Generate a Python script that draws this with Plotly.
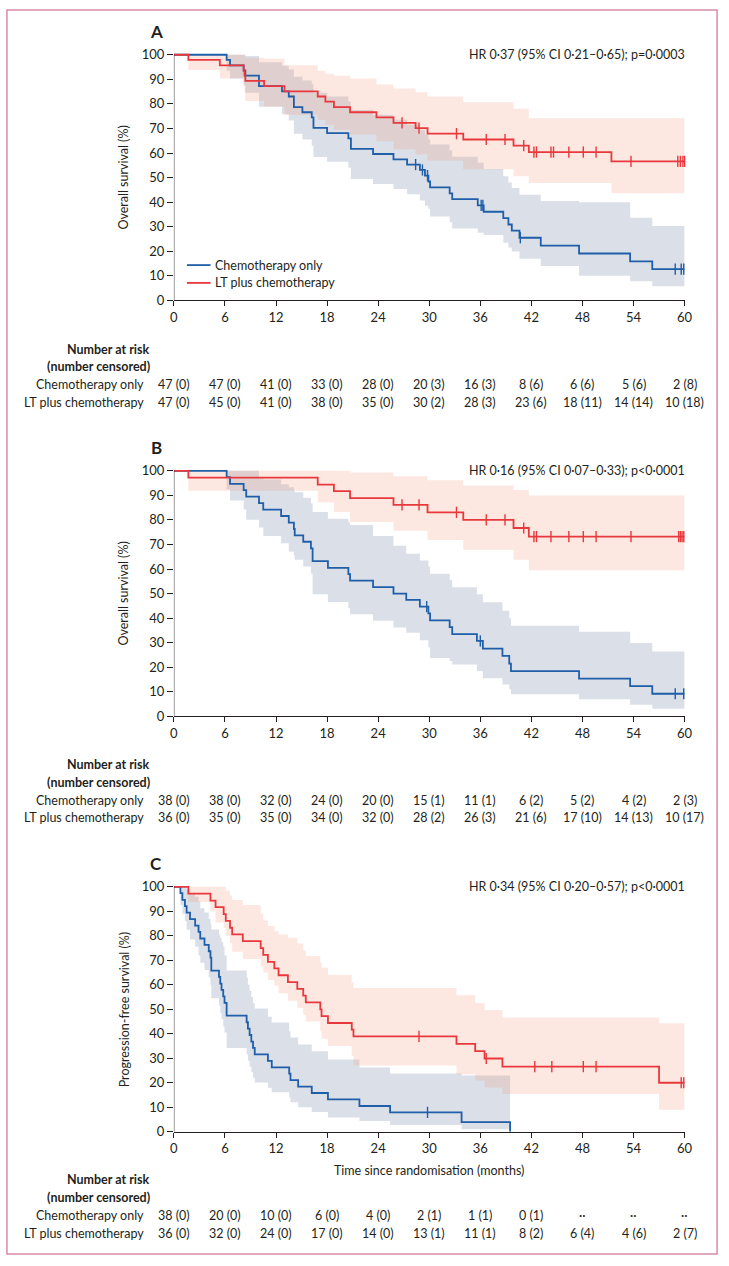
import numpy as np
import plotly.graph_objects as go

W, H = 729, 1266
FONT = "Lato"
INK = "#231f20"
BLUE = "#1f5ea8"
RED = "#e8383d"
BLUE_FILL = "rgba(170,178,200,0.42)"
RED_FILL = "rgba(240,150,120,0.22)"
BORDER = "#d98aa6"
FS = 12.5

month_ticks = [0, 6, 12, 18, 24, 30, 36, 42, 48, 54, 60]
surv_ticks = [0, 10, 20, 30, 40, 50, 60, 70, 80, 90, 100]
arm_names = ["Chemotherapy only", "LT plus chemotherapy"]

# ---------------- Panel A : overall survival ----------------
A_chemo_t = [0, 6.2, 6.6, 8.2, 8.4, 10.0, 12.7, 13.5, 14.1, 15.1, 16.2, 16.4, 18.0, 20.5, 20.8, 23.4,
             25.8, 27.4, 28.9, 29.5, 29.9, 30.1, 32.4, 32.7, 35.7, 36.4, 38.7, 39.3, 39.7, 40.6, 43.1,
             47.6, 53.6, 56.2]
A_chemo_s = [100, 97.9, 95.7, 93.6, 91.5, 87.2, 85.1, 83.0, 78.7, 76.6, 74.5, 70.2, 68.1, 66.0, 61.7, 59.6,
             57.4, 55.3, 53.1, 50.8, 48.4, 46.0, 43.6, 41.2, 38.7, 36.1, 33.5, 30.9, 28.4, 25.5, 22.3,
             19.1, 15.9, 12.7]
A_chemo_up = [100, 100, 100, 100, 99.5, 97, 95.5, 94, 91, 89.5, 88, 84.5, 83, 81, 77.5, 75.5,
              73.5, 71.5, 69.5, 67.5, 65.5, 63.5, 61, 58.5, 56, 53.5, 50.5, 48, 45.8, 43, 40.5,
              40, 33.6, 30.3]
A_chemo_lo = [100, 93.5, 90.3, 87.5, 84.5, 78.8, 75.8, 73.2, 67.8, 65.5, 63, 58.4, 56.4, 54, 49.4, 47.4,
              45.4, 43.2, 40.7, 38.5, 37.3, 34.2, 31.8, 29.3, 27.5, 26.6, 23.5, 21.5, 19.9, 17, 14,
              10, 7.8, 5.8]
A_chemo_cens = [28.4, 29.2, 29.8, 36.1, 36.3, 40.7, 58.9, 59.6, 59.9]

A_lt_t = [0, 1.7, 5.4, 8.2, 8.3, 8.4, 10.6, 13.0, 16.9, 17.8, 18.8, 20.7, 23.8, 25.8, 28.4, 29.8,
          34.0, 39.9, 41.7, 51.4]
A_lt_s = [100, 97.9, 95.7, 93.6, 91.5, 89.4, 87.2, 85.1, 83.0, 80.9, 78.7, 76.6, 74.5, 72.3, 70.1, 67.9,
          65.5, 63.0, 60.4, 56.6]
A_lt_up = [100, 100, 100, 100, 99.5, 98.8, 98.4, 95.7, 93.5, 92.3, 91.5, 90.3, 87.9, 86.3, 84.7, 83,
           80.7, 78, 74.2, 74.2]
A_lt_lo = [100, 93.8, 90.3, 88, 84.5, 81.2, 78.9, 75.6, 73.5, 71.5, 69.5, 67.5, 64.8, 61.5, 59.5, 57,
           53.4, 50.5, 47.8, 43.6]
A_lt_cens = [26.8, 28.8, 33.2, 36.7, 38.9, 41.1, 42.3, 42.6, 44.3, 44.6, 46.4, 48.1, 49.6, 53.7,
             59.2, 59.5, 59.8, 60.0]

A_chemo_risk = ["47 (0)", "47 (0)", "41 (0)", "33 (0)", "28 (0)", "20 (3)", "16 (3)", "8 (6)", "6 (6)", "5 (6)", "2 (8)"]
A_lt_risk = ["47 (0)", "45 (0)", "41 (0)", "38 (0)", "35 (0)", "30 (2)", "28 (3)", "23 (6)", "18 (11)", "14 (14)", "10 (18)"]

# ---------------- Panel B : overall survival ----------------
B_chemo_t = [0, 6.2, 6.6, 8.2, 8.5, 10.0, 10.5, 12.6, 13.5, 14.1, 14.2, 15.2, 16.1, 16.3, 18.1, 20.5,
             20.7, 23.4, 25.8, 27.3, 28.9, 29.9, 30.1, 32.4, 32.7, 35.6, 36.3, 38.6, 39.4, 39.6, 47.6,
             53.6, 56.2]
B_chemo_s = [100, 97.4, 94.7, 92.1, 89.5, 86.8, 84.2, 81.6, 78.9, 76.3, 73.7, 71.1, 68.4, 63.2, 60.5, 57.9,
             55.3, 52.6, 50.0, 47.4, 44.7, 41.9, 39.1, 36.3, 33.5, 30.7, 27.6, 24.6, 21.5, 18.4, 15.4,
             12.3, 9.2]
B_chemo_up = [100, 100, 100, 100, 100, 97.5, 96.5, 94.5, 93.3, 92, 91.3, 89, 86.8, 83.2, 80.5, 79,
              77.9, 73.4, 69.5, 66.2, 63.5, 61, 58.1, 55.5, 52.6, 49.7, 46.5, 43, 40, 36.9, 34.5,
              29.9, 26.4]
B_chemo_lo = [100, 92.5, 87.9, 84.2, 80.1, 76.9, 73.4, 70.5, 67, 65.5, 63.8, 61, 58.1, 49.7, 46.6, 44,
              41.6, 38.9, 36.2, 34, 31, 28, 23.8, 22.5, 21.1, 18.5, 15.5, 13, 11, 9, 7,
              4.7, 3.1]
B_chemo_cens = [29.7, 36.0, 58.9, 59.9]

B_lt_t = [0, 1.7, 16.9, 18.8, 20.7, 25.8, 29.8, 34.0, 39.9, 41.7]
B_lt_s = [100, 97.2, 94.4, 91.7, 88.9, 86.1, 83.1, 80.0, 76.7, 73.2]
B_lt_up = [100, 100, 100, 100, 99.3, 97.8, 96.2, 94, 92.2, 89.9]
B_lt_lo = [100, 91.9, 87.2, 83.2, 79.2, 75.6, 71.8, 67.8, 63.8, 59.5]
B_lt_cens = [26.8, 28.8, 33.2, 36.7, 38.9, 41.1, 42.3, 42.6, 44.3, 46.4, 48.1, 49.6, 53.7,
             59.3, 59.5, 59.7, 59.9]

B_chemo_risk = ["38 (0)", "38 (0)", "32 (0)", "24 (0)", "20 (0)", "15 (1)", "11 (1)", "6 (2)", "5 (2)", "4 (2)", "2 (3)"]
B_lt_risk = ["36 (0)", "35 (0)", "35 (0)", "34 (0)", "32 (0)", "28 (2)", "26 (3)", "21 (6)", "17 (10)", "14 (13)", "10 (17)"]

# ---------------- Panel C : progression-free survival ----------------
C_chemo_t = [0, 0.77, 1.0, 1.3, 1.5, 1.9, 2.5, 2.9, 3.1, 3.6, 4.1, 4.3, 4.4, 5.3, 5.45, 5.6, 5.8, 5.95,
             6.2, 8.55, 8.7, 8.9, 9.1, 9.3, 9.5, 11.05, 11.5, 13.55, 13.7, 14.6, 16.2, 18.1, 21.8, 25.4,
             33.8, 39.5]
C_chemo_s = [100, 97.4, 94.7, 92.1, 89.5, 86.8, 84.2, 81.6, 78.9, 76.3, 73.7, 71.1, 65.8, 63.2, 60.5, 57.9,
             55.3, 52.6, 47.4, 44.7, 42.1, 39.5, 36.8, 34.2, 31.6, 28.9, 26.3, 23.7, 21.1, 18.4, 15.8,
             13.2, 10.5, 7.9, 3.9, 0]
C_chemo_up = [100, 100, 100, 100, 99, 97.3, 96, 94, 91.3, 89.5, 87, 85, 82.6, 80.5, 79.2, 77.5,
              75.5, 72, 65.8, 63, 60, 57.5, 55, 52.5, 50.3, 47, 44.6, 41, 38.5, 35.6, 32.9,
              29.5, 26.2, 23.8, 23, 0]
C_chemo_lo = [100, 92.6, 89, 86, 82.5, 78.5, 75.5, 72, 69, 66, 63, 60, 54.5, 51.5, 48.5, 46,
              43, 40.5, 34.2, 31.5, 29, 26.5, 24.3, 22, 20.1, 18, 16.1, 14, 12, 10, 8,
              5.8, 4.4, 2.7, 1.0, 0]
C_chemo_cens = [29.8]

C_lt_t = [0, 1.7, 4.3, 4.9, 5.85, 6.1, 6.6, 6.85, 8.1, 10.2, 10.5, 11.05, 11.8, 12.3, 13.4, 14.5,
          15.2, 15.5, 17.2, 17.35, 18.1, 20.9, 21.1, 33.2, 35.4, 36.5, 38.6, 57.0]
C_lt_s = [100, 97.2, 94.4, 91.7, 88.9, 86.1, 83.3, 80.6, 77.8, 75.0, 72.2, 69.4, 66.7, 63.9, 61.1, 58.3,
          55.6, 52.8, 50.0, 47.2, 44.4, 41.7, 38.9, 35.9, 32.9, 29.9, 26.6, 20.0]
C_lt_up = [100, 100, 100, 100, 100, 98.5, 96.5, 94.6, 92.6, 89, 86.3, 84, 81.9, 80.5, 79.2, 76.9,
           74, 71.8, 69, 67, 64, 61, 58.7, 55.7, 52.6, 49.7, 46.6, 44.3]
C_lt_lo = [100, 93.8, 89.9, 85.5, 83.2, 80, 77, 73.5, 70.5, 67.5, 65, 62, 59.7, 56.5, 53.5, 50.5,
           47.8, 45, 41, 38, 35, 31, 27, 23.5, 20.9, 18.1, 15.4, 9.0]
C_lt_cens = [28.8, 36.7, 42.4, 44.4, 48.1, 49.6, 59.6, 59.9]

C_chemo_risk = ["38 (0)", "20 (0)", "10 (0)", "6 (0)", "4 (0)", "2 (1)", "1 (1)", "0 (1)", "··", "··", "··"]
C_lt_risk = ["36 (0)", "32 (0)", "24 (0)", "17 (0)", "14 (0)", "13 (1)", "11 (1)", "8 (2)", "6 (4)", "4 (6)", "2 (7)"]

# ---------------- layout geometry (pixels) ----------------
X0PX, X1PX = 172.7, 692.0
panels = [
    dict(letter="A", y0=297.7, y100=49.3, ytitle="Overall survival (%)",
         hr="HR 0·37 (95% CI 0·21–0·65); p=0·0003",
         arms=[(A_chemo_t, A_chemo_s, A_chemo_up, A_chemo_lo, A_chemo_cens, 60),
               (A_lt_t, A_lt_s, A_lt_up, A_lt_lo, A_lt_cens, 60)],
         risk=(A_chemo_risk, A_lt_risk), rows=(347, 365, 383, 401), legend=True, xtitle=False),
    dict(letter="B", y0=718.3, y100=470.0, ytitle="Overall survival (%)",
         hr="HR 0·16 (95% CI 0·07–0·33); p<0·0001",
         arms=[(B_chemo_t, B_chemo_s, B_chemo_up, B_chemo_lo, B_chemo_cens, 60),
               (B_lt_t, B_lt_s, B_lt_up, B_lt_lo, B_lt_cens, 60)],
         risk=(B_chemo_risk, B_lt_risk), rows=(767, 785, 803, 821), legend=False, xtitle=False),
    dict(letter="C", y0=1138.3, y100=890.7, ytitle="Progression-free survival (%)",
         hr="HR 0·34 (95% CI 0·20–0·57); p<0·0001",
         arms=[(C_chemo_t, C_chemo_s, C_chemo_up, C_chemo_lo, C_chemo_cens, 39.5),
               (C_lt_t, C_lt_s, C_lt_up, C_lt_lo, C_lt_cens, 60)],
         risk=(C_chemo_risk, C_lt_risk), rows=(1187, 1205, 1223, 1241), legend=False, xtitle=True),
]


def pxx(p):
    return p / W


def pxy(p):
    return 1 - p / H


def txt_font(size=FS, color=INK):
    return dict(family=FONT, size=size, color=color)


fig = go.Figure()
layout = dict(width=W, height=H, margin=dict(l=0, r=0, t=0, b=0),
              paper_bgcolor="white", plot_bgcolor="rgba(0,0,0,0)", showlegend=False,
              font=txt_font())
shapes = []
annotations = []
colors = [BLUE, RED]
fills = [BLUE_FILL, RED_FILL]

for i, p in enumerate(panels, start=1):
    xa = "x" if i == 1 else f"x{i}"
    ya = "y" if i == 1 else f"y{i}"
    unit = (p["y0"] - p["y100"]) / 100.0
    top_px = p["y100"] - unit * 1.0
    layout["xaxis" if i == 1 else f"xaxis{i}"] = dict(
        domain=[pxx(X0PX), pxx(X1PX)], range=[0, 60], anchor=ya,
        tickvals=month_ticks, ticks="outside", ticklen=5, tickwidth=1, tickcolor=INK,
        showline=True, linecolor=INK, linewidth=1, showgrid=False, zeroline=False,
        tickfont=txt_font(13), ticklabelstandoff=0, fixedrange=True)
    layout["yaxis" if i == 1 else f"yaxis{i}"] = dict(
        domain=[pxy(p["y0"]), pxy(top_px)], range=[0, 101], anchor=xa,
        tickvals=surv_ticks, ticks="outside", ticklen=6, tickwidth=1, tickcolor=INK,
        showline=False, showgrid=False, zeroline=False,
        tickfont=txt_font(13), fixedrange=True)
    # y axis line 0..100
    shapes.append(dict(type="line", xref=xa, yref=ya, x0=0, x1=0, y0=0, y1=100,
                       line=dict(color=INK, width=1)))

    # CI bands
    for k, (t, s, up, lo, cens, end) in enumerate(p["arms"]):
        ext = end > t[-1]
        tx = list(t) + ([end] if ext else [])
        lo_y = list(lo) + ([lo[-1]] if ext else [])
        up_y = list(up) + ([up[-1]] if ext else [])
        fig.add_trace(go.Scatter(x=tx, y=lo_y, mode="lines", line=dict(width=0, shape="hv"),
                                 xaxis=xa, yaxis=ya, hoverinfo="skip"))
        fig.add_trace(go.Scatter(x=tx, y=up_y, mode="lines", line=dict(width=0, shape="hv"),
                                 fill="tonexty", fillcolor=fills[k], xaxis=xa, yaxis=ya,
                                 hoverinfo="skip"))
    # KM lines
    for k, (t, s, up, lo, cens, end) in enumerate(p["arms"]):
        ext = end > t[-1]
        tx = list(t) + ([end] if ext else [])
        sy = list(s) + ([s[-1]] if ext else [])
        fig.add_trace(go.Scatter(x=tx, y=sy, mode="lines",
                                 line=dict(color=colors[k], width=1.8, shape="hv"),
                                 xaxis=xa, yaxis=ya, name=arm_names[k]))
    # censor marks
    for k, (t, s, up, lo, cens, end) in enumerate(p["arms"]):
        ta = np.array(t)
        idx = np.searchsorted(ta, np.array(cens), side="right") - 1
        cy = [s[j] for j in idx]
        fig.add_trace(go.Scatter(x=cens, y=cy, mode="markers", cliponaxis=False,
                                 marker=dict(symbol="line-ns-open", size=8, color=colors[k],
                                             line=dict(color=colors[k], width=1.4)),
                                 xaxis=xa, yaxis=ya, hoverinfo="skip"))

    # panel letter
    annotations.append(dict(text=f"<b>{p['letter']}</b>", xref="paper", yref="paper",
                            x=pxx(155), y=pxy(p["y100"] - 24), xanchor="center", yanchor="middle",
                            showarrow=False, font=txt_font(17)))
    # HR text
    annotations.append(dict(text=p["hr"], xref="paper", yref="paper", x=pxx(694), y=pxy(p["y100"]),
                            xanchor="right", yanchor="middle", showarrow=False, font=txt_font()))
    # y title
    annotations.append(dict(text=p["ytitle"], xref="paper", yref="paper", x=pxx(122),
                            y=pxy((p["y0"] + p["y100"]) / 2), textangle=-90,
                            xanchor="center", yanchor="middle", showarrow=False, font=txt_font()))
    # risk table
    r = p["rows"]
    annotations.append(dict(text="<b>Number at risk</b>", xref="paper", yref="paper", x=pxx(150),
                            y=pxy(r[0]), xanchor="right", yanchor="middle", showarrow=False,
                            font=txt_font()))
    annotations.append(dict(text="<b>(number censored)</b>", xref="paper", yref="paper", x=pxx(150),
                            y=pxy(r[1]), xanchor="right", yanchor="middle", showarrow=False,
                            font=txt_font()))
    for k in range(2):
        annotations.append(dict(text=arm_names[k], xref="paper", yref="paper", x=pxx(144),
                                y=pxy(r[2 + k]), xanchor="right", yanchor="middle", showarrow=False,
                                font=txt_font()))
        for m, txt in zip(month_ticks, p["risk"][k]):
            annotations.append(dict(text=txt, xref=xa, yref="paper", x=m, y=pxy(r[2 + k]),
                                    xanchor="center", yanchor="middle", showarrow=False,
                                    font=txt_font()))
    if p["legend"]:
        for k, ly in enumerate([262, 280]):
            shapes.append(dict(type="line", xref="paper", yref="paper", x0=pxx(186), x1=pxx(210),
                               y0=pxy(ly), y1=pxy(ly), line=dict(color=colors[k], width=1.8)))
            annotations.append(dict(text=arm_names[k], xref="paper", yref="paper", x=pxx(213),
                                    y=pxy(ly), xanchor="left", yanchor="middle", showarrow=False,
                                    font=txt_font()))
    if p["xtitle"]:
        annotations.append(dict(text="Time since randomisation (months)", xref="paper", yref="paper",
                                x=pxx((X0PX + X1PX) / 2), y=pxy(1178), xanchor="center",
                                yanchor="middle", showarrow=False, font=txt_font()))

# outer border
shapes.append(dict(type="rect", xref="paper", yref="paper", x0=pxx(3), x1=pxx(725),
                   y0=pxy(1262), y1=pxy(4), line=dict(color=BORDER, width=1.5)))

layout["shapes"] = shapes
layout["annotations"] = annotations
fig.update_layout(**layout)
fig.write_html("out.html")
